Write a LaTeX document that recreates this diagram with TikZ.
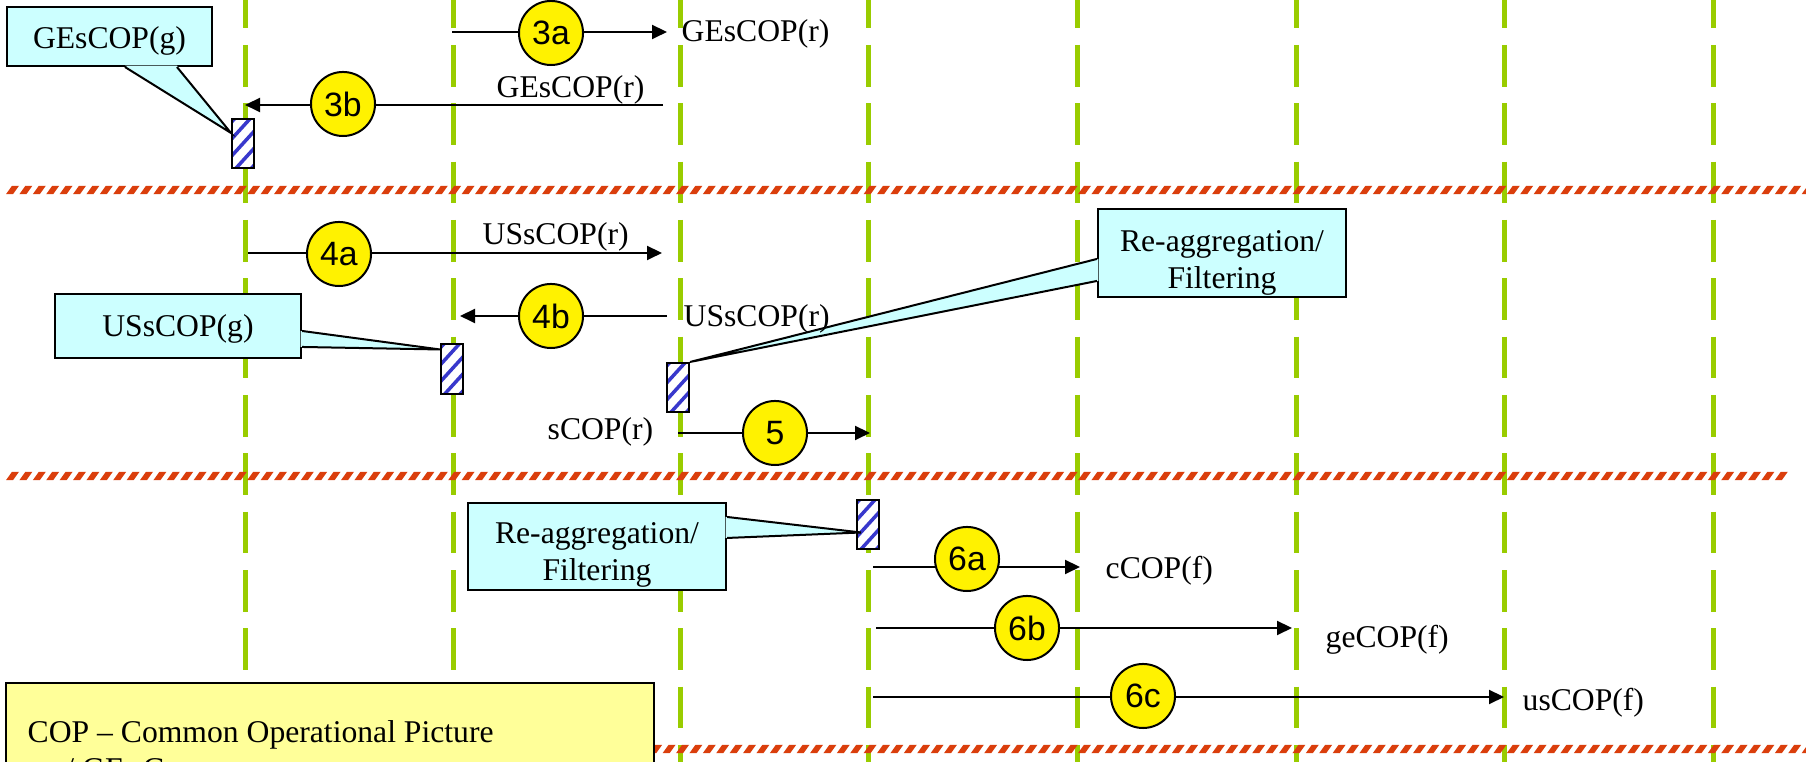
\documentclass[tikz,border=0pt]{standalone}
\usepackage{fontspec}
\setmainfont{Liberation Serif}
\newfontfamily\numfont{Liberation Sans}
\usetikzlibrary{arrows.meta,calc}
\definecolor{lifegreen}{RGB}{153,204,0}
\definecolor{sepred}{RGB}{218,62,12}
\definecolor{callcyan}{RGB}{204,255,255}
\definecolor{legyellow}{RGB}{255,255,153}
\definecolor{stripeblue}{RGB}{56,56,204}
\begin{document}
\begin{tikzpicture}[x=0.01cm,y=-0.01cm,
  lifeline/.style={draw=lifegreen, line width=0.05cm, dash pattern=on 0.417cm off 0.166cm},
  msg/.style={draw=black, line width=0.02cm, -{Triangle[length=0.15cm,width=0.14cm]}},
  stepnum/.style={circle, draw=black, line width=0.02cm, fill=yellow, minimum size=0.64cm, inner sep=0pt, font=\numfont\fontsize{9.6}{11}\selectfont},
  msglabel/.style={anchor=base west, inner sep=0pt, font=\fontsize{9}{10.4}\selectfont},
  bar/.style={rectangle, draw=black, line width=0.02cm, fill=white, minimum width=0.22cm, minimum height=0.49cm, inner sep=0pt,
    path picture={\foreach \k in {-4,...,4} \draw[stripeblue, line width=0.035cm, shift={(path picture bounding box.center)}] (-0.25cm,{\k*0.17cm-0.275cm}) -- ++(0.5cm,0.55cm);}},
  callbox/.style={rectangle, draw=black, line width=0.02cm, fill=callcyan, inner sep=0pt, font=\fontsize{9}{10.4}\selectfont},
  wedgeside/.style={draw=black, line width=0.02cm, line join=miter},
  legbox/.style={rectangle, draw=black, line width=0.02cm, fill=legyellow, inner sep=0pt, anchor=north west},
]
\useasboundingbox (0,0) rectangle (1806,762);
\clip (0,0) rectangle (1806,762);

% lifelines
\foreach \x in {245,453,680,868,1077,1296,1504,1713}
  \draw[lifeline] (\x,-13.33) -- (\x,800);

% separators
\foreach \y/\n in {190/134, 476/132, 749/134}
  \foreach \i in {0,...,\n}
    \fill[sepred] ({6+\i*13.4},{\y+4.2}) -- ({13+\i*13.4},{\y+4.2}) -- ({19+\i*13.4},{\y-4.2}) -- ({12+\i*13.4},{\y-4.2}) -- cycle;

% activation bars
\node[bar] (bar1) at (243,143.5) {};
\node[bar] (bar2) at (452,369) {};
\node[bar] (bar3) at (678,387.5) {};
\node[bar] (bar4) at (868,524.5) {};

% callout GEsCOP(g)
\node[callbox, minimum width=2.05cm, minimum height=0.59cm, text height=0.25cm, text depth=0pt] (gbox) at (109.5,36.5) {GEsCOP(g)};
\coordinate (gtip) at ($(bar1.north west)+(0,15)$);
\fill[callcyan] ($(gbox.south west)+(119,-1.5)$) -- (gtip) -- ($(gbox.south west)+(171,-1.5)$) -- cycle;
\draw[wedgeside] ($(gbox.south west)+(119,0)$) -- (gtip) -- ($(gbox.south west)+(171,0)$);

% callout USsCOP(g)
\node[callbox, minimum width=2.46cm, minimum height=0.64cm, text height=0.22cm, text depth=0pt] (usbox) at (178,326) {USsCOP(g)};
\coordinate (ustip) at ($(bar2.north west)+(0,6)$);
\fill[callcyan] ($(usbox.north east)+(-1.5,38)$) -- (ustip) -- ($(usbox.north east)+(-1.5,54)$) -- cycle;
\draw[wedgeside] ($(usbox.north east)+(0,38)$) -- (ustip) -- ($(usbox.north east)+(0,54)$);

% callout Re-aggregation (top)
\node[callbox, minimum width=2.48cm, minimum height=0.88cm, text height=0pt, text depth=0.02cm] (rbox1) at (1222,253)
  {\begin{tabular}[t]{@{}c@{}}Re-aggregation/\\Filtering\end{tabular}};
\coordinate (r1tip) at (bar3.north east);
\fill[callcyan] ($(rbox1.north west)+(1.5,51)$) -- (r1tip) -- ($(rbox1.north west)+(1.5,73)$) -- cycle;
\draw[wedgeside] ($(rbox1.north west)+(0,51)$) -- (r1tip) -- ($(rbox1.north west)+(0,73)$);

% callout Re-aggregation (bottom)
\node[callbox, minimum width=2.58cm, minimum height=0.87cm, text height=0pt, text depth=0.05cm] (rbox2) at (597,546.5)
  {\begin{tabular}[t]{@{}c@{}}Re-aggregation/\\Filtering\end{tabular}};
\coordinate (r2tip) at ($(bar4.west)+(5,8)$);
\fill[callcyan] ($(rbox2.north east)+(-1.5,15)$) -- (r2tip) -- ($(rbox2.north east)+(-1.5,36)$) -- cycle;
\draw[wedgeside] ($(rbox2.north east)+(0,15)$) -- (r2tip) -- ($(rbox2.north east)+(0,36)$);

% messages
\coordinate (m3as) at (452,32);  \coordinate (m3ae) at (667,32);
\draw[msg] (m3as) -- (m3ae);
\node[stepnum] (n3a) at (551,33) {3a};
\node[msglabel] (l3a) at (681,42) {GEsCOP(r)};

\coordinate (m3bs) at (663,105); \coordinate (m3be) at (245,105);
\draw[msg] (m3bs) -- (m3be);
\node[stepnum] (n3b) at (343,104) {3b};
\node[msglabel] (l3b) at (496,98) {GEsCOP(r)};

\coordinate (m4as) at (248,253); \coordinate (m4ae) at (662,253);
\draw[msg] (m4as) -- (m4ae);
\node[stepnum] (n4a) at (339,254) {4a};
\node[msglabel] (l4a) at (482,245) {USsCOP(r)};

\coordinate (m4bs) at (667,316); \coordinate (m4be) at (460,316);
\draw[msg] (m4bs) -- (m4be);
\node[stepnum] (n4b) at (551,316) {4b};
\node[msglabel] (l4b) at (683,327) {USsCOP(r)};

\coordinate (m5s) at (678,433); \coordinate (m5e) at (870,433);
\draw[msg] (m5s) -- (m5e);
\node[stepnum] (n5) at (775,433) {5};
\node[msglabel] (l5) at (547,440) {sCOP(r)};

\coordinate (m6as) at (873,567); \coordinate (m6ae) at (1080,567);
\draw[msg] (m6as) -- (m6ae);
\node[stepnum] (n6a) at (967,559) {6a};
\node[msglabel] (l6a) at (1105,579) {cCOP(f)};

\coordinate (m6bs) at (876,628); \coordinate (m6be) at (1292,628);
\draw[msg] (m6bs) -- (m6be);
\node[stepnum] (n6b) at (1027,628) {6b};
\node[msglabel] (l6b) at (1325,648) {geCOP(f)};

\coordinate (m6cs) at (873,697); \coordinate (m6ce) at (1504,697);
\draw[msg] (m6cs) -- (m6ce);
\node[stepnum] (n6c) at (1143,696) {6c};
\node[msglabel] (l6c) at (1522,711) {usCOP(f)};

% legend
\node[legbox, minimum width=6.48cm, minimum height=1.6cm] (legend) at (5,682) {};
\node[msglabel] (legtext) at (27,743)
  {\begin{tabular}[t]{@{}l@{}}COP – Common Operational Picture\\ge / GE- Germany\end{tabular}};
\end{tikzpicture}
\end{document}
